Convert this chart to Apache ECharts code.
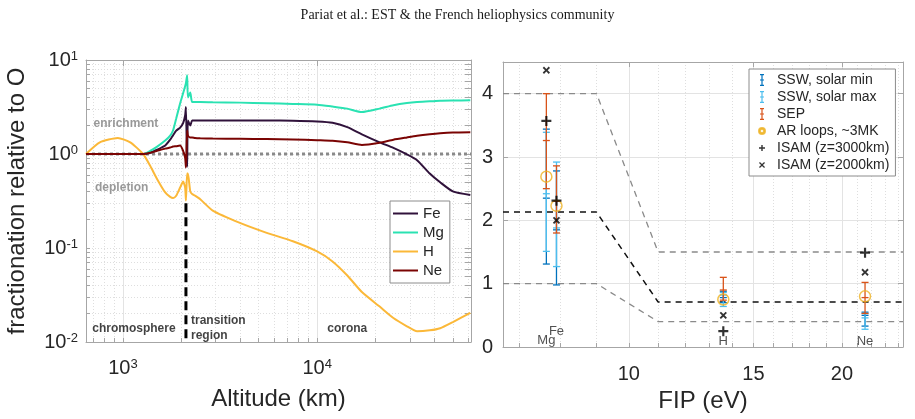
<!DOCTYPE html>
<html>
<head>
<meta charset="utf-8">
<script src="https://cdn.jsdelivr.net/npm/echarts@6.0.0/dist/echarts.min.js"></script>
<style>
  html, body { margin: 0; padding: 0; background: #fff; }
  #chart { width: 915px; height: 419px; }
</style>
</head>
<body>
<div id="chart"></div>
<script>
// ---- left panel: fractionation relative to O vs altitude ----
const altitude = [645, 760, 940, 1090, 1270, 1380, 1500, 1650, 1750, 1810, 1880, 1970, 2040, 2090, 2110, 2140, 2160, 2220, 2270, 2350, 2500, 2900, 4000, 5500, 7500, 10000, 12000, 14300, 17000, 21000, 24700, 29000, 32700, 38000, 43000, 50000, 61500];
const feFrac = [1, 1, 1, 1, 1, 1.03, 1.11, 1.23, 1.42, 1.58, 1.77, 1.91, 2.13, 2.57, 3.16, 0.73, 2.27, 2.01, 2.27, 2.27, 2.27, 2.27, 2.27, 2.27, 2.26, 2.22, 2.15, 1.93, 1.62, 1.33, 1.16, 0.99, 0.86, 0.62, 0.5, 0.40, 0.366];
const mgFrac = [1, 1, 1, 1, 1, 1.08, 1.2, 1.39, 1.57, 1.78, 2.39, 3.46, 4.42, 5.27, 5.67, 6.9, 4.0, 4.5, 3.57, 3.57, 3.57, 3.55, 3.52, 3.47, 3.41, 3.35, 3.2, 3.04, 2.79, 3.04, 3.3, 3.49, 3.58, 3.63, 3.68, 3.7, 3.72];
const hFrac = [1.0, 1.33, 1.48, 1.33, 1.0, 0.75, 0.54, 0.39, 0.35, 0.34, 0.36, 0.44, 0.51, 0.44, 0.32, 0.62, 0.62, 0.40, 0.375, 0.36, 0.33, 0.25, 0.185, 0.145, 0.118, 0.092, 0.072, 0.051, 0.034, 0.0238, 0.018, 0.0147, 0.013, 0.0133, 0.014, 0.0163, 0.0204];
const neFrac = [1, 1, 1, 1, 1, 1.03, 1.08, 1.14, 1.17, 1.2, 1.21, 1.23, 1.08, 0.91, 0.72, 1.78, 1.57, 1.5, 1.5, 1.48, 1.47, 1.46, 1.45, 1.44, 1.43, 1.4, 1.38, 1.33, 1.25, 1.32, 1.42, 1.5, 1.56, 1.62, 1.66, 1.69, 1.7];

const altRange = [645, 62000];
const fracRange = [0.01, 10];
const altTicks = [700, 800, 900, 1000, 2000, 3000, 4000, 5000, 6000, 7000, 8000, 9000, 10000, 20000, 30000, 40000, 50000, 60000];
const altLabels = [1000, 10000];
const fracTicks = [0.01, 0.02, 0.03, 0.04, 0.05, 0.06, 0.07, 0.08, 0.09, 0.1, 0.2, 0.3, 0.4, 0.5, 0.6, 0.7, 0.8, 0.9, 1, 2, 3, 4, 5, 6, 7, 8, 9, 10];
const fracLabels = [0.01, 0.1, 1, 10];

const transitionAlt = 2110;
const transitionTop = 0.3;

const fracNoteText = ['enrichment', 'depletion'];
const fracNoteAlt = [1036, 985];
const fracNoteVal = [2.11, 0.44];
const zoneNoteText = ['chromosphere', 'transition\nregion', 'corona'];
const zoneNoteAlt = [1139, 2240, 14290];
const zoneNoteVal = [0.014, 0.014, 0.014];

// ---- right panel: FIP bias vs first ionisation potential ----
const elements = ['Mg', 'Fe', 'H', 'Ne'];
const elementFip = [7.646, 7.902, 13.598, 21.565];
const elementLabelY = [0.1, 0.24, 0.09, 0.09];

const sswMinLow = [1.31, 0.98, 0.70, 0.33];
const sswMinMid = [2.35, 1.85, 0.78, 0.50];
const sswMinHigh = [3.44, 2.78, 0.88, 0.55];
const sswMaxLow = [1.51, 1.27, 0.64, 0.28];
const sswMaxMid = [2.42, 1.88, 0.82, 0.46];
const sswMaxHigh = [3.39, 2.92, 0.86, 0.53];
const sepLow = [2.50, 1.80, 0.74, 0.53];
const sepMid = [3.26, 2.30, 0.90, 0.78];
const sepHigh = [4.0, 2.86, 1.10, 1.02];
const arLoops = [2.69, 2.23, 0.75, 0.80];
const isam3000 = [3.57, 2.31, 0.25, 1.49];
const isam2000 = [4.37, 2.0, 0.50, 1.18];

const modelFip = [6.64, 9, 11, 24.4];
const modelMid = [2.13, 2.13, 0.71, 0.71];
const modelUpper = [4, 4, 1.5, 1.5];
const modelLower = [1, 1, 0.4, 0.4];

const fipRange = [6.64, 24.4];
const fipTicks = [7, 8, 9, 10, 11, 12, 13, 14, 15, 16, 17, 18, 19, 20, 21, 22, 23, 24];
const fipLabels = [10, 15, 20];
const ratioTicks = [0, 1, 2, 3, 4];

const FONT = 'Liberation Sans';
const INK = '#262626';
const FRAME = '#a6a6a6';

const chart = echarts.init(document.getElementById('chart'));

const pairs = (xs, ys) => xs.map((x, i) => [x, ys[i]]);
const powLabel = (v) => '{b|10}{s|' + Math.round(Math.log10(v)) + '}';
const powRich = {
  b: { fontSize: 20, fontFamily: FONT, color: INK },
  s: { fontSize: 13, fontFamily: FONT, color: INK, verticalAlign: 'top' },
};

const lineIcon = 'path://M0,0M25,14M0,6h25v2h-25z';
const barIcon = 'path://M0,0M12,12M4,0h4v1.2h-4zM5.4,0h1.2v12h-1.2zM4,5.4h4v1.2h-4zM4,10.8h4v1.2h-4z';
const ringIcon = 'path://M0,0M12,12M9,6A3,3,0,1,1,3,6A3,3,0,1,1,9,6ZM8.1,6A2.1,2.1,0,1,0,3.9,6A2.1,2.1,0,1,0,8.1,6Z';
const plusIcon = 'path://M0,0M12,12M5.3,3h1.4v2.3h2.3v1.4h-2.3v2.3h-1.4v-2.3h-2.3v-1.4h2.3z';
const crossIcon = 'path://M0,0M12,12M3,3.9L3.9,3L6,5.1L8.1,3L9,3.9L6.9,6L9,8.1L8.1,9L6,6.9L3.9,9L3,8.1L5.1,6Z';
const plusSymbol = 'path://M-1.3,-6h2.6v4.7h4.7v2.6h-4.7v4.7h-2.6v-4.7h-4.7v-2.6h4.7z';

function renderErrorBar(params, api) {
  const x = api.value(0);
  const low = api.coord([x, api.value(1)]);
  const mid = api.coord([x, api.value(2)]);
  const high = api.coord([x, api.value(3)]);
  const half = 3.5;
  const color = api.visual('color');
  const seg = (x1, y1, x2, y2) => ({
    type: 'line',
    shape: { x1, y1, x2, y2 },
    style: { stroke: color, lineWidth: 1.3, fill: null },
  });
  return {
    type: 'group',
    children: [
      seg(low[0], low[1], high[0], high[1]),
      seg(low[0] - half, low[1], low[0] + half, low[1]),
      seg(mid[0] - half, mid[1], mid[0] + half, mid[1]),
      seg(high[0] - half, high[1], high[0] + half, high[1]),
    ],
  };
}

const errorBarSeries = (name, color, lows, mids, highs) => ({
  name,
  type: 'custom',
  xAxisIndex: 2,
  yAxisIndex: 2,
  renderItem: renderErrorBar,
  itemStyle: { color },
  encode: { x: 0, y: [1, 2, 3] },
  data: elementFip.map((f, i) => [f, lows[i], mids[i], highs[i]]),
  z: 3,
});

const fracLine = (name, color, values) => ({
  name,
  type: 'line',
  xAxisIndex: 0,
  yAxisIndex: 0,
  symbol: 'none',
  smooth: 0.2,
  lineStyle: { color, width: 2 },
  itemStyle: { color },
  data: pairs(altitude, values),
  z: 3,
});

const modelLine = (name, color, values, width) => ({
  name,
  type: 'line',
  xAxisIndex: 2,
  yAxisIndex: 2,
  symbol: 'none',
  silent: true,
  lineStyle: { color, width, type: [6, 5] },
  data: pairs(modelFip, values),
  z: 2,
});

const option = {
  animation: false,
  backgroundColor: '#fff',
  title: {
    text: 'Pariat et al.: EST & the French heliophysics community',
    left: 'center',
    top: 3,
    textStyle: { fontFamily: 'Liberation Serif', fontSize: 14, fontWeight: 'normal', color: '#1a1a1a' },
  },
  grid: [
    { left: 86, right: 444, top: 60, bottom: 77, outerBoundsMode: 'none' },
    { left: 503, right: 12, top: 62, bottom: 72, outerBoundsMode: 'none' },
  ],
  legend: [
    {
      data: ['Fe', 'Mg', 'H', 'Ne'].map((n) => ({ name: n, icon: lineIcon })),
      orient: 'vertical',
      left: 390,
      top: 201,
      padding: [5, 6, 5, 3],
      itemWidth: 25,
      itemHeight: 14,
      itemGap: 4,
      selectedMode: false,
      backgroundColor: '#fff',
      borderColor: '#8c8c8c',
      borderWidth: 1,
      textStyle: { fontFamily: FONT, fontSize: 15, color: INK },
    },
    {
      data: [
        { name: 'SSW, solar min', icon: barIcon },
        { name: 'SSW, solar max', icon: barIcon },
        { name: 'SEP', icon: barIcon },
        { name: 'AR loops, ~3MK', icon: ringIcon, itemStyle: { color: '#EDB120' } },
        { name: 'ISAM (z=3000km)', icon: plusIcon },
        { name: 'ISAM (z=2000km)', icon: crossIcon },
      ],
      orient: 'vertical',
      left: 749,
      top: 69,
      padding: [4, 6, 4, 6],
      itemWidth: 20,
      itemHeight: 12,
      itemGap: 3,
      selectedMode: false,
      backgroundColor: '#fff',
      borderColor: '#8c8c8c',
      borderWidth: 1,
      textStyle: { fontFamily: FONT, fontSize: 14, color: INK },
    },
  ],
  xAxis: [
    {
      type: 'log',
      gridIndex: 0,
      position: 'bottom',
      min: altRange[0],
      max: altRange[1],
      name: 'Altitude (km)',
      nameLocation: 'middle',
      nameGap: 45,
      nameTextStyle: { fontFamily: FONT, fontSize: 24, color: INK },
      axisLine: { show: true, onZero: false, lineStyle: { color: FRAME } },
      axisTick: { show: true, inside: true, length: 4, customValues: altTicks, lineStyle: { color: FRAME } },
      axisLabel: { customValues: altLabels, formatter: powLabel, rich: powRich, margin: 16 },
      splitLine: { show: true, lineStyle: { color: '#dedede', type: [1, 2] } },
    },
    {
      type: 'log',
      gridIndex: 0,
      position: 'top',
      min: altRange[0],
      max: altRange[1],
      axisLine: { show: true, onZero: false, lineStyle: { color: FRAME } },
      axisTick: { show: true, inside: true, length: 6, customValues: altLabels, lineStyle: { color: FRAME } },
      axisLabel: { show: false },
      splitLine: { show: true, lineStyle: { color: '#e3e3e3' } },
    },
    {
      type: 'log',
      gridIndex: 1,
      position: 'bottom',
      min: fipRange[0],
      max: fipRange[1],
      name: 'FIP (eV)',
      nameLocation: 'middle',
      nameGap: 40,
      nameTextStyle: { fontFamily: FONT, fontSize: 24, color: INK },
      axisLine: { show: true, onZero: false, lineStyle: { color: FRAME } },
      axisTick: { show: true, inside: true, length: 4, customValues: fipTicks, lineStyle: { color: FRAME } },
      axisLabel: { customValues: fipLabels, formatter: (v) => String(Math.round(v)), margin: 17, fontFamily: FONT, fontSize: 20, color: INK },
      splitLine: { show: true, lineStyle: { color: '#dedede', type: [1, 2] } },
    },
    {
      type: 'log',
      gridIndex: 1,
      position: 'top',
      min: fipRange[0],
      max: fipRange[1],
      axisLine: { show: true, onZero: false, lineStyle: { color: FRAME } },
      axisTick: { show: true, inside: true, length: 5, customValues: fipLabels, lineStyle: { color: FRAME } },
      axisLabel: { show: false },
      splitLine: { show: true, lineStyle: { color: '#e3e3e3' } },
    },
  ],
  yAxis: [
    {
      type: 'log',
      gridIndex: 0,
      position: 'left',
      min: fracRange[0],
      max: fracRange[1],
      name: 'fractionation relative to O',
      nameLocation: 'middle',
      nameGap: 57,
      nameTextStyle: { fontFamily: FONT, fontSize: 24, color: INK },
      axisLine: { show: true, onZero: false, lineStyle: { color: FRAME } },
      axisTick: { show: true, inside: true, length: 4, customValues: fracTicks, lineStyle: { color: FRAME } },
      axisLabel: { customValues: fracLabels, formatter: powLabel, rich: powRich, margin: 8 },
      splitLine: { show: true, lineStyle: { color: '#dedede', type: [1, 2] } },
    },
    {
      type: 'log',
      gridIndex: 0,
      position: 'right',
      min: fracRange[0],
      max: fracRange[1],
      axisLine: { show: true, onZero: false, lineStyle: { color: FRAME } },
      axisTick: { show: true, inside: true, length: 6, customValues: fracTicks, lineStyle: { color: FRAME } },
      axisLabel: { show: false },
      splitLine: { show: false },
    },
    {
      type: 'value',
      gridIndex: 1,
      position: 'left',
      min: 0,
      max: 4.5,
      axisLine: { show: true, onZero: false, lineStyle: { color: FRAME } },
      axisTick: { show: true, inside: true, length: 5, customValues: ratioTicks, lineStyle: { color: FRAME } },
      axisLabel: { customValues: ratioTicks, margin: 10, fontFamily: FONT, fontSize: 20, color: INK },
      splitLine: { show: true, lineStyle: { color: '#e3e3e3' } },
    },
    {
      type: 'value',
      gridIndex: 1,
      position: 'right',
      min: 0,
      max: 4.5,
      axisLine: { show: true, onZero: false, lineStyle: { color: FRAME } },
      axisTick: { show: true, inside: true, length: 5, customValues: ratioTicks, lineStyle: { color: FRAME } },
      axisLabel: { show: false },
      splitLine: { show: false },
    },
  ],
  series: [
    {
      name: 'unity',
      type: 'line',
      xAxisIndex: 0,
      yAxisIndex: 0,
      symbol: 'none',
      silent: true,
      lineStyle: { color: '#8a8a8a', width: 3, type: [3, 3] },
      data: [[altRange[0], 1], [altRange[1], 1]],
      z: 2,
    },
    {
      name: 'transition',
      type: 'line',
      xAxisIndex: 0,
      yAxisIndex: 0,
      symbol: 'none',
      silent: true,
      lineStyle: { color: '#000', width: 3, type: [9, 5] },
      data: [[transitionAlt, transitionTop], [transitionAlt, fracRange[0]]],
      z: 2,
    },
    fracLine('Fe', '#30123B', feFrac),
    fracLine('Mg', '#2AE2B2', mgFrac),
    fracLine('H', '#FBB838', hFrac),
    fracLine('Ne', '#7A0403', neFrac),
    {
      name: 'fracNotes',
      type: 'scatter',
      xAxisIndex: 0,
      yAxisIndex: 0,
      symbolSize: 0,
      silent: true,
      label: { show: true, position: 'inside', formatter: (p) => p.name, fontFamily: FONT, fontSize: 12, fontWeight: 'bold', color: '#7f7f7f' },
      data: fracNoteText.map((t, i) => ({ name: t, value: [fracNoteAlt[i], fracNoteVal[i]] })),
    },
    {
      name: 'zoneNotes',
      type: 'scatter',
      xAxisIndex: 0,
      yAxisIndex: 0,
      symbolSize: 0,
      silent: true,
      label: { show: true, position: 'inside', formatter: (p) => p.name, fontFamily: FONT, fontSize: 12, fontWeight: 'bold', color: '#111', lineHeight: 15 },
      data: zoneNoteText.map((t, i) => ({
        name: t,
        value: [zoneNoteAlt[i], zoneNoteVal[i]],
        label: t.indexOf('\n') >= 0 ? { align: 'left', position: [0, 0], verticalAlign: 'middle' } : undefined,
      })),
    },
    modelLine('model upper', '#8a8a8a', modelUpper, 1.3),
    modelLine('model lower', '#8a8a8a', modelLower, 1.3),
    modelLine('model', '#111', modelMid, 1.5),
    errorBarSeries('SSW, solar min', '#0072BD', sswMinLow, sswMinMid, sswMinHigh),
    errorBarSeries('SSW, solar max', '#4DBEEE', sswMaxLow, sswMaxMid, sswMaxHigh),
    errorBarSeries('SEP', '#D95319', sepLow, sepMid, sepHigh),
    {
      name: 'AR loops, ~3MK',
      type: 'scatter',
      xAxisIndex: 2,
      yAxisIndex: 2,
      symbol: 'circle',
      symbolSize: 11,
      itemStyle: { color: 'rgba(0,0,0,0)', borderColor: '#EDB120', borderWidth: 1.5 },
      data: pairs(elementFip, arLoops),
      z: 4,
    },
    {
      name: 'ISAM (z=3000km)',
      type: 'scatter',
      xAxisIndex: 2,
      yAxisIndex: 2,
      symbol: plusSymbol,
      symbolSize: 10,
      itemStyle: { color: '#000' },
      data: pairs(elementFip, isam3000),
      z: 5,
    },
    {
      name: 'ISAM (z=2000km)',
      type: 'scatter',
      xAxisIndex: 2,
      yAxisIndex: 2,
      symbol: plusSymbol,
      symbolRotate: 45,
      symbolSize: 8.5,
      itemStyle: { color: '#000' },
      data: pairs(elementFip, isam2000),
      z: 5,
    },
    {
      name: 'elements',
      type: 'scatter',
      xAxisIndex: 2,
      yAxisIndex: 2,
      symbolSize: 0,
      silent: true,
      label: { show: true, position: 'inside', formatter: (p) => p.name, fontFamily: FONT, fontSize: 13, color: INK },
      data: elements.map((el, i) => ({ name: el, value: [elementFip[i], elementLabelY[i]] })),
    },
  ],
};

chart.setOption(option);
</script>
</body>
</html>
